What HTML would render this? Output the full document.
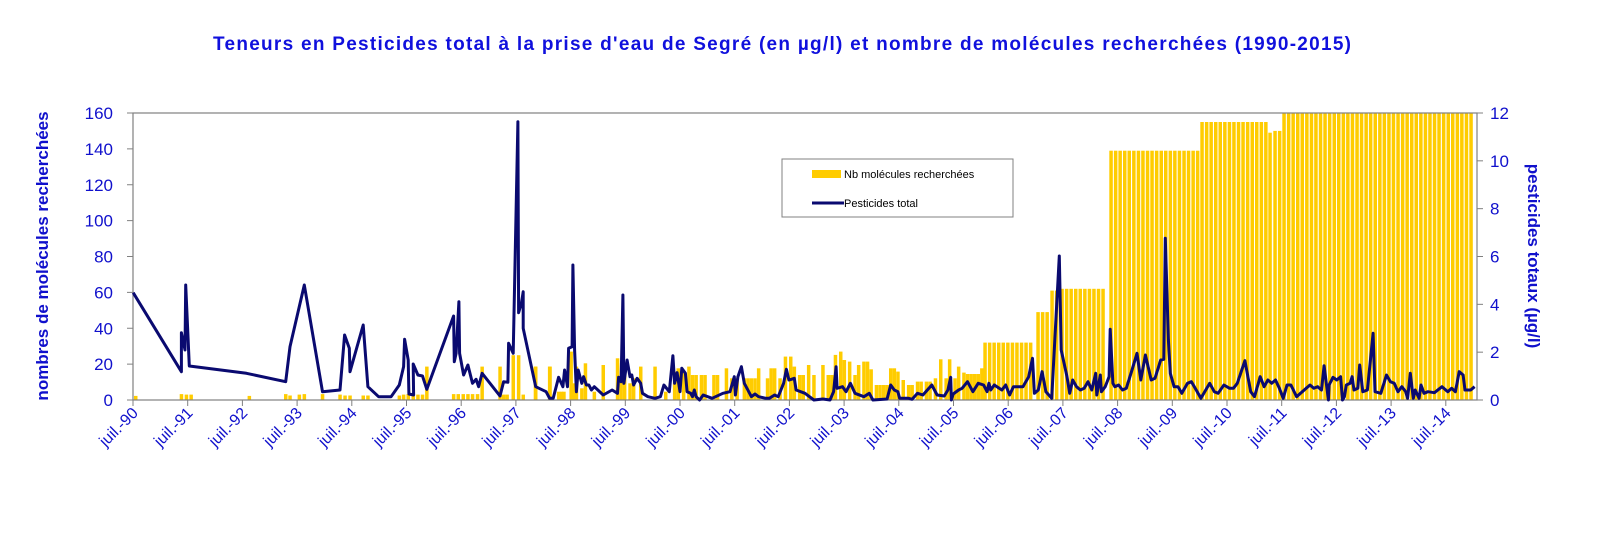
<!DOCTYPE html>
<html><head><meta charset="utf-8"><style>
body{margin:0;background:#fff;}
svg{display:block;font-family:"Liberation Sans",sans-serif;}
</style></head><body>
<svg id="s" width="1600" height="552" xmlns="http://www.w3.org/2000/svg">
<text x="782" y="50" text-anchor="middle" font-size="19" font-weight="bold" fill="#1010DD" textLength="1138" lengthAdjust="spacing">Teneurs en Pesticides total à la prise d'eau de Segré (en µg/l) et nombre de molécules recherchées (1990-2015)</text>
<g id="bars" fill="#FFCC00"></g>
<rect x="133" y="113" width="1344" height="287" fill="none" stroke="#808080" stroke-width="1.2"/>
<g id="ticks" stroke="#808080" stroke-width="1"></g>
<polyline id="ln" fill="none" stroke="#0A0A70" stroke-width="3" stroke-linejoin="round"/>
<g id="lab" fill="#1010CC" font-size="17"></g>
<text transform="translate(48,256) rotate(-90)" text-anchor="middle" font-size="17" font-weight="bold" fill="#1010CC">nombres de molécules recherchées</text>
<text transform="translate(1528,256) rotate(90)" text-anchor="middle" font-size="17" font-weight="bold" fill="#1010CC">pesticides totaux (µg/l)</text>
<rect x="782" y="159" width="231" height="58" fill="#fff" stroke="#808080" stroke-width="1"/>
<rect x="812" y="170" width="29" height="8" fill="#FFCC00"/>
<text x="844" y="178" font-size="11" fill="#000">Nb molécules recherchées</text>
<line x1="812" y1="203" x2="844" y2="203" stroke="#0A0A70" stroke-width="3"/>
<text x="844" y="207" font-size="11" fill="#000">Pesticides total</text>
</svg>
<script>
var NS="http://www.w3.org/2000/svg";
function el(t,a,p){var e=document.createElementNS(NS,t);for(var k in a)e.setAttribute(k,a[k]);p.appendChild(e);return e;}
var Y0=400,H=287;
function yv(v){return Y0-v/160*H;}
var bars=document.getElementById('bars');
function bar(x,v){el('rect',{x:(x-1.7).toFixed(1),y:yv(v).toFixed(1),width:3.5,height:(Y0-yv(v)).toFixed(1)},bars);}
var z1=[[380,2.3],[508,3.3],[522,3],[535,3],[698,2.3],[800,3.3],[812,2.5],[838,3],[852,3.3],[903,3.3],[952,3],[966,2.5],[980,2.5],[1017,2.5],[1030,2.5],[1118,2.5],[1130,3],[1143,3.3],[1157,3],[1170,3],[1183,3],[1195,18.6],[1270,3.3],[1283,3.3],[1297,3.3],[1310,3.3],[1323,3.3],[1337,3.3],[1350,18.6],[1400,18.6],[1410,3],[1420,3],[1437,25],[1452,25],[1465,3],[1500,18.6],[1540,18.6]];
z1.forEach(function(b){bar(b[0]/2.8,b[1]);});
function zv(zy){return (930-zy)/860*160;}
var z3=[[155,830],[195,830],[220,905],[228,905],[235,905],[255,785],[262,880],[270,830],[285,895],[295,820],[320,905],[345,825],[385,805],[395,870],[405,845],[420,880],[430,865],[450,830],[490,830],[520,905],[545,845],[555,835],[570,845],[585,830],[595,855],[605,855],[620,855],[630,855],[655,855],[665,855],[690,835],[705,865],[720,865],[740,865],[750,865],[760,865],[770,865],[780,835],[805,865],[815,835],[825,835],[840,865],[855,800],[870,800],[880,830],[895,855],[905,855],[920,825],[935,855],[960,825],[975,855],[985,855],[995,795],[1010,785],[1020,810],[1035,815],[1050,855],[1060,825],[1075,815],[1085,815],[1095,838],[1110,885],[1120,885],[1130,885],[1140,885],[1150,835],[1160,835],[1170,845],[1185,870],[1200,885],[1210,885],[1225,875],[1235,875],[1250,875],[1260,875],[1275,865],[1290,808],[1305,865],[1315,808],[1330,865],[1340,830],[1355,848],[1365,852],[1375,852],[1385,852],[1395,852],[1405,835]];
z3.forEach(function(b){bar(480+b[0]/2.8,zv(b[1]));});
var seg=[[985,1034,32],[1038,1048,49],[1052,1058,61],[1062,1107,62],[1111,1198,139],[1202,1267,155],[1270,1272,149],[1275,1280,150],[1284,1475,160]];
seg.forEach(function(s){for(var x=s[0];x<=s[1]+0.1;x+=4.56)bar(x,s[2]);});
var p1=[[373,608],[508,845],[508,728],[518,780],[520,585],[530,828],[690,850],[800,875],[812,770],[852,585],[903,905],[952,900],[965,735],[978,775],[980,845],[1017,705],[1030,890],[1060,920],[1095,920],[1118,885],[1130,830],[1133,748],[1143,810],[1145,912],[1158,915],[1157,822],[1170,855],[1183,858],[1195,898],[1270,678],[1272,815],[1277,790],[1285,635],[1287,790],[1298,855],[1310,825],[1323,880],[1333,868],[1340,890],[1350,850],[1400,918],[1410,875],[1422,877],[1424,760],[1437,790],[1450,95],[1452,668],[1460,640],[1465,605],[1465,715],[1500,890]];
var p3=[[185,905],[195,925],[205,925],[220,862],[232,890],[237,840],[245,890],[248,775],[258,770],[260,525],[265,780],[270,905],[275,840],[285,880],[290,860],[298,885],[305,885],[312,900],[320,890],[345,915],[370,900],[385,910],[388,862],[395,875],[400,615],[403,880],[412,810],[420,860],[425,855],[430,885],[440,865],[450,880],[455,910],[470,920],[490,925],[505,920],[515,885],[530,905],[540,797],[545,880],[552,848],[560,905],[565,835],[575,850],[580,905],[590,910],[595,920],[600,900],[605,920],[615,930],[625,915],[650,925],[680,910],[700,905],[712,860],[715,915],[722,860],[732,830],[740,880],[760,920],[770,912],[780,920],[800,925],[810,925],[825,915],[835,920],[850,880],[858,838],[865,870],[872,868],[880,865],[885,900],[910,910],[935,930],[960,927],[980,930],[990,905],[997,830],[1000,895],[1015,890],[1025,905],[1037,880],[1050,910],[1075,920],[1090,910],[1100,930],[1130,928],[1140,927],[1150,885],[1160,900],[1170,905],[1175,925],[1200,925],[1210,928],[1225,910],[1240,915],[1265,885],[1280,915],[1300,918],[1310,900],[1318,862],[1320,930],[1325,912],[1340,900],[1350,895],[1365,875],[1380,905],[1395,880],[1410,885],[1420,905],[1425,880],[1430,900],[1440,885]];
var p2=[[5,900],[15,885],[25,915],[35,890],[60,890],[65,880],[75,860],[85,805],[90,910],[100,900],[110,845],[120,905],[135,925],[155,498],[160,780],[175,860],[182,910],[190,870],[195,880],[200,890],[210,900],[220,895],[230,875],[240,900],[250,850],[253,915],[262,855],[265,905],[275,890],[285,860],[288,718],[295,880],[300,890],[310,885],[320,900],[330,895],[345,840],[358,790],[368,870],[380,795],[395,870],[405,865],[420,810],[428,808],[432,445],[440,750],[445,850],[455,890],[465,890],[475,910],[490,880],[500,875],[510,895],[525,925],[548,880],[560,905],[570,910],[585,885],[600,895],[610,895],[620,880],[640,812],[655,905],[665,920],[680,860],[690,890],[700,870],[710,880],[720,870],[730,895],[740,925],[750,885],[760,885],[775,920],[800,895],[810,885],[820,895],[830,890],[840,900],[847,827],[858,930],[860,885],[870,862],[880,870],[890,860],[895,930],[900,920],[905,885],[915,880],[920,860],[925,900],[935,895],[940,825],[948,905],[960,900],[975,730],[980,905],[995,910],[1010,855],[1020,875],[1030,880],[1040,905],[1050,890],[1060,905],[1065,925],[1072,850],[1080,925],[1085,900],[1095,925],[1100,885],[1108,910],[1118,905],[1135,908],[1155,890],[1170,905],[1180,895],[1190,905],[1200,845],[1210,855],[1215,900],[1230,900],[1240,890]];
var pts=[];
p1.forEach(function(p){pts.push([p[0]/2.8,90+p[1]/3]);});
p3.forEach(function(p){pts.push([480+p[0]/2.8,90+p[1]/3]);});
p2.forEach(function(p){pts.push([1000+p[0]/2.613,90+p[1]/3]);});
document.getElementById('ln').setAttribute('points',pts.map(function(p){return p[0].toFixed(1)+','+Math.min(p[1],400).toFixed(1);}).join(' '));
var tk=document.getElementById('ticks'),lb=document.getElementById('lab');
for(var i=0;i<=8;i++){var y=yv(i*20);
 el('line',{x1:127,y1:y,x2:133,y2:y},tk);
 var t=el('text',{x:113,y:y+6,'text-anchor':'end'},lb);t.textContent=i*20;}
for(var j=0;j<=6;j++){var y=Y0-j/6*H;
 el('line',{x1:1477,y1:y,x2:1483,y2:y},tk);
 var t=el('text',{x:1490,y:y+6},lb);t.textContent=j*2;}
for(var k=0;k<=24;k++){var x=133+k*54.7;
 el('line',{x1:x,y1:400,x2:x,y2:406},tk);
 var yy=(90+k)%100;var s='juil.-'+(yy<10?'0':'')+yy;
 var t=el('text',{transform:'translate('+(x+6)+',414) rotate(-45)','text-anchor':'end','font-size':'16'},lb);t.textContent=s;}
</script>
</body></html>
